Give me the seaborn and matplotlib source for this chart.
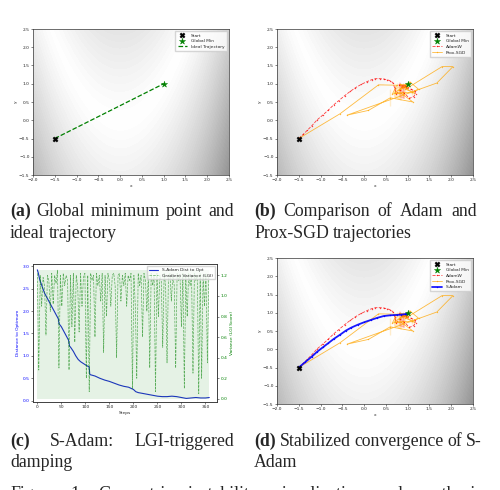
import numpy as np
import matplotlib
matplotlib.use("Agg")
import matplotlib.pyplot as plt
import seaborn as sns

# --- dati ---
start_pt = (-1.5, -0.5)
global_min = (1.0, 1.0)

adamw_x = [-1.5, -1.4, -1.3, -1.2, -1.08, -0.95, -0.83, -0.7, -0.58, -0.45, -0.32, -0.2, -0.07, 0.07,
           0.17, 0.26, 0.36, 0.45, 0.53, 0.6, 0.66, 0.7, 0.7, 0.74, 0.82, 0.92, 1.04, 1.14, 1.18, 1.16,
           1.08, 0.97, 0.87, 0.8, 0.82, 0.9, 0.98, 1.01, 0.97, 0.9, 0.86, 0.88, 0.94, 0.96, 0.92, 0.88,
           0.9, 0.93, 0.91]
adamw_y = [-0.5, -0.39, -0.27, -0.15, 0.01, 0.14, 0.27, 0.42, 0.54, 0.67, 0.79, 0.89, 0.98, 1.06,
           1.11, 1.14, 1.14, 1.13, 1.11, 1.08, 1.03, 0.95, 0.83, 0.72, 0.64, 0.6, 0.6, 0.65, 0.73, 0.8,
           0.85, 0.88, 0.92, 0.97, 1.02, 1.01, 0.97, 0.92, 0.87, 0.86, 0.9, 0.96, 0.96, 0.92, 0.89, 0.91,
           0.95, 0.94, 0.92]

prox_x = [-1.5, -0.55, 0.33, 0.75, 0.65, 0.9, 1.15, 0.95, 1.79, 2.04, 1.67, -0.39, 0.1, 0.6, 1.12,
          0.85, 0.7, 0.6, 0.75, 1.05, 1.25, 1.1, 0.85, 0.7, 0.82, 1.0, 1.1, 0.95, 0.8, 0.85, 0.98,
          0.95, 0.9]
prox_y = [-0.5, 0.18, 0.97, 0.9, 0.72, 0.62, 0.75, 0.95, 1.47, 1.47, 1.02, 0.14, 0.27, 0.38, 0.5,
          0.55, 0.65, 0.85, 1.02, 1.05, 0.85, 0.7, 0.72, 0.85, 0.98, 0.98, 0.85, 0.75, 0.82, 0.95, 0.92,
          0.85, 0.9]

sadam_x = [-1.5, -1.35, -1.2, -1.08, -0.95, -0.82, -0.7, -0.55, -0.42, -0.3, -0.15, 0.0, 0.15, 0.3,
           0.45, 0.6, 0.75, 0.85, 0.95, 1.0, 0.97]
sadam_y = [-0.5, -0.35, -0.2, -0.07, 0.05, 0.17, 0.28, 0.4, 0.51, 0.59, 0.67, 0.74, 0.8, 0.86,
           0.91, 0.93, 0.94, 0.95, 0.96, 0.98, 0.97]

dist_steps = [0, 2, 5, 10, 15, 20, 25, 30, 35, 40, 44, 45, 50, 55, 60, 65, 67, 70, 75, 80, 85, 90,
              100, 108, 109, 110, 120, 130, 140, 150, 160, 170, 180, 190, 200, 205, 210, 220, 230,
              240, 250, 260, 270, 280, 290, 300, 310, 320, 330, 340, 350, 358]
dist_vals = [2.92, 2.85, 2.7, 2.55, 2.4, 2.3, 2.2, 2.1, 2.0, 1.9, 1.82, 1.72, 1.65, 1.55, 1.45, 1.35,
             1.22, 1.18, 1.1, 1.0, 0.92, 0.87, 0.8, 0.75, 0.6, 0.58, 0.55, 0.5, 0.46, 0.43, 0.39, 0.35,
             0.32, 0.3, 0.25, 0.2, 0.18, 0.16, 0.14, 0.12, 0.1, 0.09, 0.09, 0.1, 0.09, 0.07, 0.05, 0.06,
             0.07, 0.06, 0.06, 0.07]

var_vals = [1.22, 0.28, 1.2, 0.9, 1.18, 1.1, 0.62, 1.2, 1.15, 0.85, 1.22, 0.92, 1.2, 1.12, 1.25,
            0.3, 1.2, 0.9, 1.22, 1.1, 1.2, 1.15, 0.28, 1.2, 0.7, 1.22, 0.55, 1.2, 1.1, 0.65,
            1.22, 0.9, 1.18, 1.22, 0.2, 1.2, 0.07, 1.22, 1.15, 1.2, 0.6, 1.22, 1.1, 1.2, 0.95,
            1.22, 0.45, 1.2, 0.8, 1.22, 1.15, 0.9, 1.2, 1.22, 1.1, 0.4, 1.2, 1.22, 0.95, 1.2,
            1.1, 1.22, 0.9, 1.2, 1.15, 1.22, 0.1, 1.2, 0.9, 0.2, 1.22, 1.1, 1.2, 0.6, 1.22,
            1.15, 0.85, 1.2, 0.3, 1.22, 1.1, 1.2, 0.07, 1.22, 0.8, 1.2, 1.15, 0.5, 1.22, 1.1,
            0.35, 1.2, 1.22, 0.95, 1.2, 1.1, 0.3, 1.22, 1.15, 1.2, 0.7, 1.22, 0.1, 1.2, 0.8,
            1.22, 1.1, 1.2, 0.25, 1.22, 1.15, 1.2, 0.05, 1.22, 0.2, 1.2, 0.9, 1.22, 0.35, 1.2]
var_steps = np.arange(0, 3 * len(var_vals), 3)

W, H = 500, 490
sns.set_theme(style="ticks", rc={"axes.linewidth": 0.5, "xtick.major.width": 0.4,
                                 "ytick.major.width": 0.4, "xtick.major.size": 1.5,
                                 "ytick.major.size": 1.5, "xtick.major.pad": 1, "ytick.major.pad": 1,
                                 "axes.edgecolor": "#333333"})
plt.rcParams["font.family"] = ["DejaVu Sans"]

fig = plt.figure(figsize=(W / 100, H / 100), dpi=100)
TS = 3.2


def px_axes(l, t, r, b):
    return fig.add_axes([l / W, 1 - b / H, (r - l) / W, (b - t) / H])


def landscape(ax):
    # funzione di Rosenbrock sullo sfondo (scala attenuata, niente alpha per evitare cuciture)
    gx = np.linspace(-2, 2.5, 300)
    gy = np.linspace(-1.5, 2.5, 300)
    X, Y = np.meshgrid(gx, gy)
    Z = ((1 - X) ** 2 + 100 * (Y - X ** 2) ** 2) ** 0.6
    ax.contourf(X, Y, Z, levels=60, cmap="gray_r", vmin=0, vmax=Z.max() / 0.42, zorder=0)
    ax.set_xlim(-2, 2.5)
    ax.set_ylim(-1.5, 2.5)
    ax.set_xticks(np.arange(-2, 2.51, 0.5))
    ax.set_yticks(np.arange(-1.5, 2.51, 0.5))
    ax.tick_params(labelsize=TS)
    ax.set_xlabel("x", fontsize=TS, labelpad=1)
    ax.set_ylabel("y", fontsize=TS, labelpad=1)


def markers(ax):
    sns.scatterplot(x=[start_pt[0]], y=[start_pt[1]], marker="X", color="black", s=14,
                    edgecolor="black", linewidth=0.3, label="Start", ax=ax, zorder=5)
    sns.scatterplot(x=[global_min[0]], y=[global_min[1]], marker="*", color="green", s=22,
                    edgecolor="green", linewidth=0.3, label="Global Min", ax=ax, zorder=5)


def traj(ax, xs, ys, color, label, ls="-", lw=0.6, alpha=0.75):
    sns.lineplot(x=xs, y=ys, sort=False, color=color, linestyle=ls, linewidth=lw, marker=".",
                 markersize=2, markeredgewidth=0, alpha=alpha, label=label, ax=ax, zorder=3)


def small_legend(ax):
    ax.legend(loc="upper right", fontsize=TS, borderpad=0.5, labelspacing=0.35,
              handlelength=2.2, handletextpad=0.8, frameon=True, fancybox=False)


# (a)
ax_a = px_axes(33, 29, 229, 175)
landscape(ax_a)
markers(ax_a)
sns.lineplot(x=[start_pt[0], global_min[0]], y=[start_pt[1], global_min[1]], color="green",
             linestyle="--", linewidth=0.9, label="Ideal Trajectory", ax=ax_a, zorder=3)
small_legend(ax_a)

# (b)
ax_b = px_axes(277, 29, 473, 175)
landscape(ax_b)
markers(ax_b)
traj(ax_b, adamw_x, adamw_y, "red", "AdamW", ls="--")
traj(ax_b, prox_x, prox_y, "orange", "Prox-SGD")
small_legend(ax_b)

# (c)
ax_c = px_axes(33, 264, 217, 402)
sns.lineplot(x=dist_steps, y=dist_vals, color="#1f2fd0", linewidth=0.8,
             label="S-Adam Dist to Opt", ax=ax_c, legend=False)
ax_c.set_xlim(-9, 374)
ax_c.set_ylim(-0.03, 3.05)
ax_c.set_xticks(np.arange(0, 351, 50))
ax_c.set_yticks(np.arange(0, 3.01, 0.5))
ax_c.set_xlabel("Steps", fontsize=TS, labelpad=1)
ax_c.set_ylabel("Distance to Optimum", fontsize=TS, color="blue", labelpad=2)
ax_c.tick_params(axis="x", labelsize=TS)
ax_c.tick_params(axis="y", labelsize=TS, labelcolor="blue")
ax_v = ax_c.twinx()
ax_v.fill_between(var_steps, 0, max(var_vals), color="green", alpha=0.1, linewidth=0)
sns.lineplot(x=var_steps, y=var_vals, color="green", linestyle="--", linewidth=0.5, alpha=0.6,
             label="Gradient Variance (LGI)", ax=ax_v, legend=False)
ax_v.set_ylim(-0.03, 1.31)
ax_v.set_yticks(np.arange(0, 1.21, 0.2))
ax_v.set_ylabel("Variance (LGI Score)", fontsize=TS, color="green", labelpad=2)
ax_v.tick_params(axis="y", labelsize=TS, labelcolor="green")
h1, l1 = ax_c.get_legend_handles_labels()
h2, l2 = ax_v.get_legend_handles_labels()
ax_v.legend(h1 + h2, l1 + l2, loc="upper right", fontsize=TS, borderpad=0.4,
            labelspacing=0.3, handlelength=2.2, fancybox=False)

# (d)
ax_d = px_axes(277, 258, 473, 404)
landscape(ax_d)
markers(ax_d)
traj(ax_d, adamw_x, adamw_y, "red", "AdamW", ls="--")
traj(ax_d, prox_x, prox_y, "orange", "Prox-SGD")
traj(ax_d, sadam_x, sadam_y, "blue", "S-Adam", lw=1.3, alpha=0.9)
small_legend(ax_d)

# --- didascalie ---
CAP = dict(family=["Liberation Serif", "DejaVu Serif"], fontsize=12.8, va="baseline")
renderer = fig.canvas.get_renderer()


def caption_line(words, x0, x1, y, n_bold=0, justify=True):
    texts = [fig.text(0, 1 - y / H, w, fontweight="bold" if i < n_bold else "normal", **CAP)
             for i, w in enumerate(words)]
    widths = [t.get_window_extent(renderer).width for t in texts]
    gap = (x1 - x0 - sum(widths)) / (len(words) - 1) if justify and len(words) > 1 else 4.4
    x = x0
    for t, w in zip(texts, widths):
        t.set_x(x / W)
        x += w + gap


caption_line(["(a)", "Global", "minimum", "point", "and"], 10, 234, 216, 1)
caption_line(["ideal", "trajectory"], 10, 234, 238, justify=False)
caption_line(["(b)", "Comparison", "of", "Adam", "and"], 254, 477, 216, 1)
caption_line(["Prox-SGD", "trajectories"], 254, 477, 238, justify=False)
caption_line(["(c)", "S-Adam:", "LGI-triggered"], 10, 234, 446, 1)
caption_line(["damping"], 10, 234, 467, justify=False)
caption_line(["(d)", "Stabilized", "convergence", "of", "S-"], 254, 482, 446, 1)
caption_line(["Adam"], 254, 482, 467, justify=False)
# riga della didascalia generale, tagliata dal bordo inferiore come nell'originale
caption_line(["Figure", "1:", "Geometric", "instability", "visualization", "and", "synthesis"],
             10, 482, 499)

fig.savefig("out.png", dpi=100)
